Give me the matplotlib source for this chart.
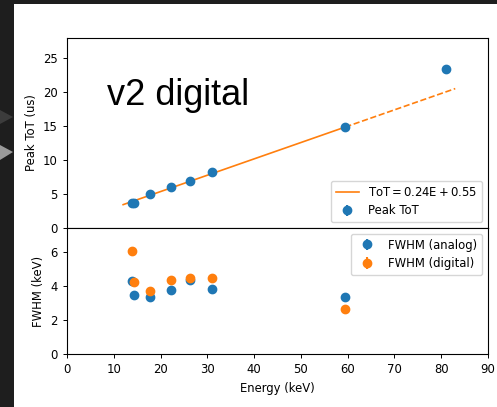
import matplotlib.pyplot as plt
from matplotlib.patches import Rectangle, Polygon

# peak positions (keV) and measured peak ToT (us)
energy = [13.8, 14.4, 17.7, 22.2, 26.3, 30.9, 59.5, 81.0]
peak_tot = [3.72, 3.72, 4.95, 5.98, 6.96, 8.15, 14.85, 23.3]
tot_err = [0.08, 0.08, 0.08, 0.08, 0.08, 0.08, 0.1, 0.1]

# linear fit ToT = a*E + b
fit_a = 0.24
fit_b = 0.55
fit_solid = [12.0, 59.5]
fit_dash = [59.5, 83.0]

# FWHM (keV)
fwhm_energy = [13.8, 14.4, 17.7, 22.2, 26.3, 30.9, 59.5]
fwhm_analog = [4.29, 3.47, 3.37, 3.78, 4.33, 3.80, 3.35]
fwhm_digital = [6.02, 4.22, 3.70, 4.33, 4.49, 4.45, 2.62]
fwhm_err = [0.05] * 7

plt.rcParams['font.size'] = 8.4

fig = plt.figure(figsize=(4.97, 4.07), dpi=100, facecolor='#1e1e1e')
# white slide area and the grey nav arrows at the left edge
fig.patches.append(Rectangle((14 / 497, 0), 1, 1 - 4 / 407, transform=fig.transFigure,
                             facecolor='white', edgecolor='none', zorder=-10))
fig.patches.append(Polygon([(0, 1 - 110 / 407), (13 / 497, 1 - 117 / 407), (0, 1 - 124 / 407)],
                           closed=True, transform=fig.transFigure, facecolor='#3c3c3c',
                           edgecolor='none', zorder=-9))
fig.patches.append(Polygon([(0, 1 - 145 / 407), (13 / 497, 1 - 152 / 407), (0, 1 - 160 / 407)],
                           closed=True, transform=fig.transFigure, facecolor='#9a9a9a',
                           edgecolor='none', zorder=-9))

left, width = 67 / 497, 421 / 497
ax1 = fig.add_axes([left, 1 - 228 / 407, width, 190 / 407])
ax2 = fig.add_axes([left, 1 - 354 / 407, width, 126 / 407], sharex=ax1)

line_x = fit_solid
ax1.plot(line_x, [fit_a * x + fit_b for x in line_x], color='#ff7f0e', lw=1.2,
         label=r'$\mathrm{ToT} = 0.24\mathrm{E} + 0.55$')
ax1.plot(fit_dash, [fit_a * x + fit_b for x in fit_dash], color='#ff7f0e', lw=1.2, ls='--')
ax1.errorbar(energy, peak_tot, yerr=tot_err, fmt='o', color='#1f77b4', ms=6,
             label='Peak ToT')
ax1.set_ylim(0, 27.9)
ax1.set_ylabel('Peak ToT (us)')
ax1.set_yticks([0, 5, 10, 15, 20, 25])
ax1.tick_params(labelbottom=False)
ax1.legend(loc='lower right')

ax2.errorbar(fwhm_energy, fwhm_analog, yerr=fwhm_err, fmt='o', color='#1f77b4', ms=6,
             label='FWHM (analog)')
ax2.errorbar(fwhm_energy, fwhm_digital, yerr=fwhm_err, fmt='o', color='#ff7f0e', ms=6,
             label='FWHM (digital)')
ax2.set_ylim(0, 7.4)
ax2.set_yticks([0, 2, 4, 6])
ax2.set_xlim(0, 90)
ax2.set_xticks(range(0, 91, 10))
ax2.set_xlabel('Energy (keV)')
ax2.set_ylabel('FWHM (keV)')
ax2.legend(loc='upper right')

for ax in (ax1, ax2):
    ax.tick_params(length=3, width=0.7)
    for s in ax.spines.values():
        s.set_linewidth(0.8)

fig.text(107 / 497, 1 - 105 / 407, 'v2 digital', fontsize=26, family='Liberation Sans',
         va='baseline')

fig.savefig('out.png', dpi=100, facecolor=fig.get_facecolor())
